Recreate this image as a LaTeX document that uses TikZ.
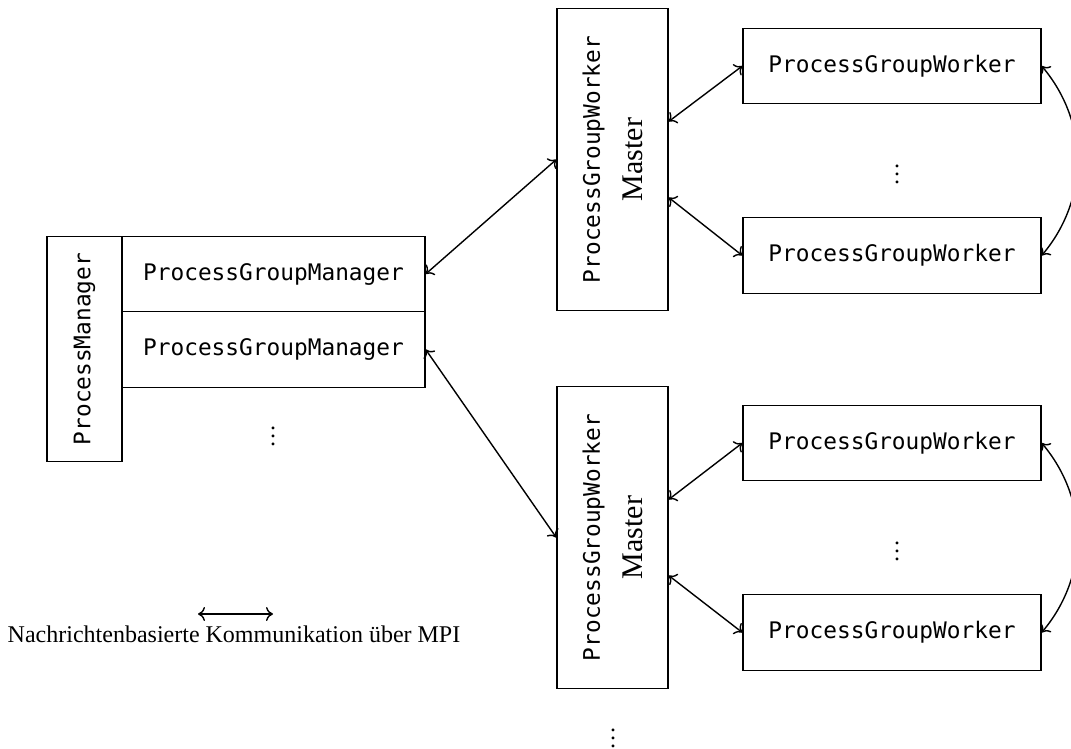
\documentclass[tikz,border=0pt]{standalone}
\usepackage{fontspec}
\setmainfont{Liberation Serif}
\setmonofont{DejaVu Sans Mono}
\usepackage{tikz}
\usetikzlibrary{calc, arrows.meta}

\begin{document}
\begin{tikzpicture}[x=0.5pt, y=-0.5pt, line width=0.7pt, >={To[length=3.5pt,width=7pt]},
  box/.style={draw, inner sep=0pt, font=\ttfamily\fontsize{11.4}{13}\selectfont},
  mgr/.style={box, minimum width=151.5pt, minimum height=37.75pt},
  worker/.style={box, minimum width=149pt, minimum height=37.75pt},
  master/.style={draw, inner sep=0pt, minimum width=55.5pt, minimum height=151pt},
  vdot/.style={inner sep=0pt, font=\fontsize{12}{14}\selectfont}]
  \useasboundingbox (0,0) rectangle (1071,749);

  % process manager with its group managers
  \node[box, minimum width=37.5pt, minimum height=112.5pt] (pm) at (84.5,349) {};
  \node[rotate=90, font=\ttfamily\fontsize{11.4}{13}\selectfont] (pmlabel) at (pm.center) {ProcessManager};
  \node[mgr] (pgm1) at (273.5,274)   {ProcessGroupManager};
  \node[mgr] (pgm2) at (273.5,349.5) {ProcessGroupManager};
  \node[vdot] (pgmdots) at (273,430) {$\vdots$};

  % group masters
  \node[master] (m1) at (612.5,159.5) {};
  \node[master] (m2) at (612.5,537.5) {};
  \foreach \m in {m1,m2}
    \node[rotate=90, align=center] at (\m.center)
      {{\ttfamily\fontsize{11.4}{13}\selectfont ProcessGroupWorker}\\[8pt]{\fontsize{15}{17}\selectfont Master}};
  \node[vdot] (mdots) at (613,732) {$\vdots$};

  % workers
  \node[worker] (w1) at (892,66)    {ProcessGroupWorker};
  \node[worker] (w2) at (892,255.5) {ProcessGroupWorker};
  \node[worker] (w3) at (892,443)   {ProcessGroupWorker};
  \node[worker] (w4) at (892,632.5) {ProcessGroupWorker};
  \node[vdot] (wdots1) at (897,168) {$\vdots$};
  \node[vdot] (wdots2) at (897,545) {$\vdots$};

  % messages
  \path[<->]
        (pgm1.east) edge (m1.west)
        (pgm2.east) edge (m2.west)
        ($(m1.east)+(0,-38)$) edge (w1.west)
        ($(m1.east)+(0,38)$)  edge (w2.west)
        ($(m2.east)+(0,-38)$) edge (w3.west)
        ($(m2.east)+(0,38)$)  edge (w4.west)
        (w1.east) edge [bend left=40] (w2.east)
        (w3.east) edge [bend left=40] (w4.east)
        ;

  % legend
  \coordinate (lgA) at (198,614);
  \coordinate (lgB) at (273,614);
  \draw[<->] (lgA) -- (lgB);
  \node[font=\fontsize{12}{14}\selectfont] (legend) at (234,634) {Nachrichtenbasierte Kommunikation über MPI};
\end{tikzpicture}
\end{document}
